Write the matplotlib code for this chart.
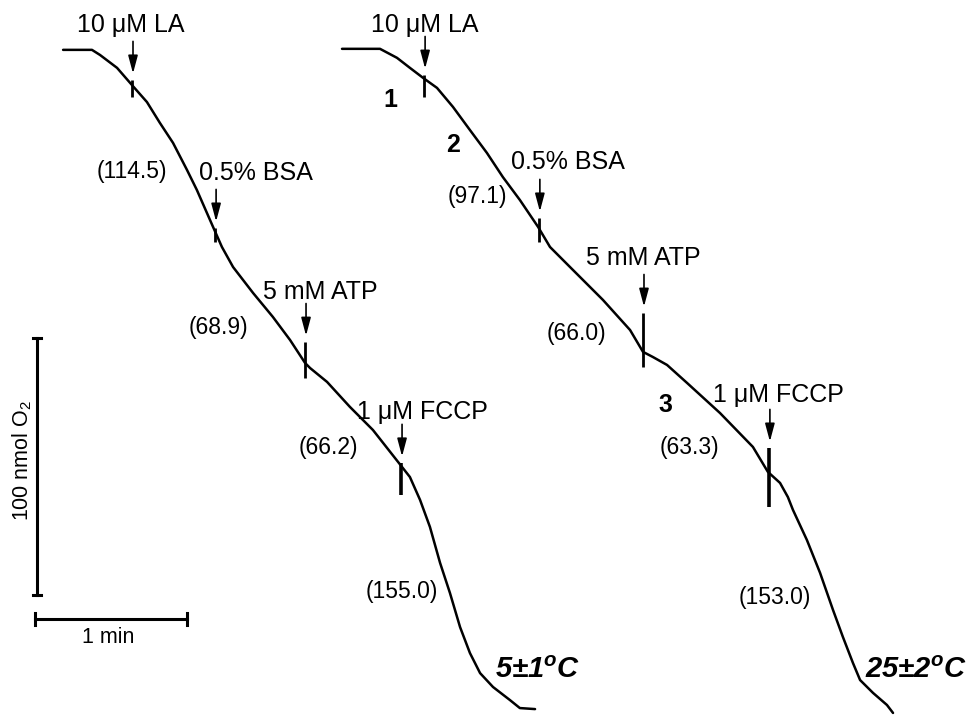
import matplotlib
matplotlib.use("Agg")
import matplotlib.pyplot as plt

plt.rcParams['font.family'] = ['Liberation Sans', 'DejaVu Sans']
plt.rcParams['mathtext.fontset'] = 'custom'
plt.rcParams['mathtext.rm'] = 'Liberation Sans'
plt.rcParams['mathtext.it'] = 'Liberation Sans:italic:bold'

# ---- Data: oxygen electrode traces (time in s, O2 in nmol, arbitrary offset) ----
t_5C = [11.1, 22.5, 25.7, 32.4, 38.3, 44.2, 49.3, 54.5, 60.0, 63.9, 70.3, 73.8,
        78.2, 86.1, 93.9, 100.7, 106.6, 108.6, 115.3, 124.3, 133.4, 143.3, 148.0,
        152.0, 155.9, 159.9, 163.8, 167.8, 171.7, 175.7, 180.8, 187.5, 191.4, 197.4]
o2_5C = [212.1, 212.1, 210.1, 205.1, 198.4, 191.8, 183.7, 175.9, 165.4, 157.6, 143.2,
         135.4, 127.6, 117.5, 108.2, 99.2, 90.3, 88.3, 82.9, 73.2, 64.2, 51.8, 45.9,
         37.0, 26.5, 12.5, 0.8, -12.5, -22.6, -30.4, -35.8, -40.9, -44.0, -44.4]

t_25C = [121.2, 136.2, 142.9, 148.0, 153.2, 158.7, 165.0, 171.7, 178.4, 184.7, 191.4,
         198.6, 203.3, 211.2, 224.2, 234.9, 240.0, 243.9, 249.5, 257.4, 270.4, 283.4,
         289.3, 294.1, 297.2, 299.2, 304.7, 309.9, 315.0, 318.9, 322.9, 325.7, 330.8,
         336.3, 338.7]
o2_25C = [212.5, 212.5, 209.0, 205.1, 201.2, 197.3, 189.9, 180.9, 172.0, 162.6, 153.7,
          143.2, 135.4, 127.6, 114.8, 103.1, 94.6, 92.6, 89.5, 82.5, 70.8, 57.6, 47.9,
          43.6, 38.1, 33.1, 21.4, 8.6, -5.8, -16.3, -26.5, -33.1, -38.1, -42.8, -45.9]

# injection events: label, time, tick top, tick bottom, label position
inj_labels = ['10 μM LA', '0.5% BSA', '5 mM ATP', '1 μM FCCP']
inj_t_5C = [38.3, 71.1, 106.6, 144.5]
inj_top_5C = [200.4, 142.8, 98.4, 51.4]
inj_bot_5C = [193.8, 137.4, 84.4, 38.9]
inj_lab_5C = [(37.9, 221.8), (87.2, 164.2), (112.5, 117.9), (152.8, 71.2)]

inj_t_25C = [153.6, 198.9, 240.0, 289.7]
inj_top_25C = [202.3, 146.7, 109.7, 57.2]
inj_bot_25C = [193.8, 137.4, 88.7, 34.2]
inj_lab_25C = [(153.9, 221.8), (210.4, 168.5), (240.0, 131.1), (293.3, 77.8)]

# respiration rates (values in parentheses) and their positions
rates_5C = ['(114.5)', '(68.9)', '(66.2)', '(155.0)']
rate_pos_5C = [(38.3, 164.6), (72.6, 103.9), (115.7, 57.2), (144.9, 1.2)]
rates_25C = ['(97.1)', '(66.0)', '(63.3)', '(153.0)']
rate_pos_25C = [(174.5, 154.9), (213.6, 101.9), (258.2, 57.2), (292.1, -0.8)]

states = ['1', '2', '3']
state_pos = [(140.1, 192.6), (165.0, 175.1), (248.7, 73.9)]

temps = ['5±1$^{o}$C', '25±2$^{o}$C']
temp_pos = [(181.6, -29.2), (327.6, -29.2)]

scale_time_s = 60
scale_o2_nmol = 100

# ---- Figure ----
fig = plt.figure(figsize=(9.67, 7.15), dpi=100)
ax = fig.add_axes([0, 0, 1, 1])
ax.set_xlim(-13.8, 367.9)
ax.set_ylim(-46.7, 231.5)
ax.axis('off')

ax.plot(t_5C, o2_5C, color='k', lw=1.8, solid_capstyle='round', solid_joinstyle='round')
ax.plot(t_25C, o2_25C, color='k', lw=1.8, solid_capstyle='round', solid_joinstyle='round')

arrow_gap = 2.5
arrow_len = 12.5
for ts, tops, bots, labpos in [(inj_t_5C, inj_top_5C, inj_bot_5C, inj_lab_5C),
                               (inj_t_25C, inj_top_25C, inj_bot_25C, inj_lab_25C)]:
    for i, (t, top, bot, lp) in enumerate(zip(ts, tops, bots, labpos)):
        lw = 2.6 if i == 3 else 2.0
        ax.plot([t, t], [bot, top], color='k', lw=lw, solid_capstyle='butt')
        tip = top + arrow_gap
        ax.annotate('', xy=(t + 0.4, tip), xytext=(t + 0.4, tip + arrow_len),
                    arrowprops=dict(arrowstyle='-|>,head_length=0.6,head_width=0.16',
                                    lw=1.2, color='k', shrinkA=0, shrinkB=0,
                                    mutation_scale=18))
        ax.text(lp[0], lp[1], inj_labels[i], fontsize=18, ha='center', va='center')

for labs, poss in [(rates_5C, rate_pos_5C), (rates_25C, rate_pos_25C)]:
    for s, p in zip(labs, poss):
        ax.text(p[0], p[1], s, fontsize=16.5, ha='center', va='center')

for s, p in zip(states, state_pos):
    ax.text(p[0], p[1], s, fontsize=18, fontweight='bold', ha='center', va='center')

for s, p in zip(temps, temp_pos):
    ax.text(p[0], p[1], s, fontsize=21, fontweight='bold', fontstyle='italic',
            ha='left', va='center')

# scale bars
xb = 0.8
ax.plot([xb, xb], [0, scale_o2_nmol], color='k', lw=2.2)
for yy in [0, scale_o2_nmol]:
    ax.plot([xb - 1.7, xb + 1.7], [yy, yy], color='k', lw=2.2)
yb = -9.3
ax.plot([0, scale_time_s], [yb, yb], color='k', lw=2.2)
for xx in [0, scale_time_s]:
    ax.plot([xx, xx], [yb - 2.2, yb + 2.2], color='k', lw=2.2)
ax.text(29, -16.7, '1 min', fontsize=15.5, ha='center', va='center')
ax.text(-5.1, 52.5, '100 nmol O$_2$', fontsize=15.5, ha='center', va='center',
        rotation=90)

fig.savefig('out.png', dpi=100, facecolor='white')
